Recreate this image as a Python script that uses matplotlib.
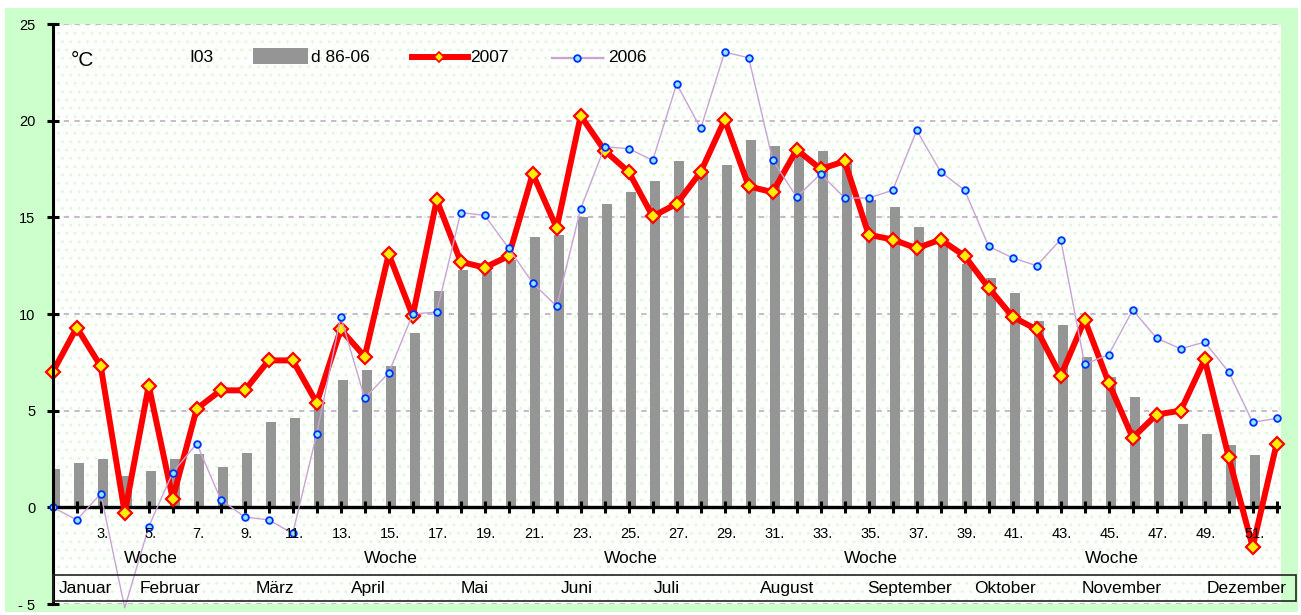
import matplotlib
matplotlib.use('Agg')
import matplotlib.pyplot as plt
from matplotlib.patches import Rectangle
from matplotlib.lines import Line2D
import numpy as np

plt.rcParams['font.family'] = ['Liberation Sans', 'DejaVu Sans']
plt.rcParams['font.size'] = 10
plt.rcParams['hatch.linewidth'] = 0.8

# Wochenmittel Temperatur
weeks = np.arange(1, 53)

# Mittel 86-06 (Woche 52 im Bild nicht sichtbar)
avg_86_06 = [2.0, 2.3, 2.5, 1.6, 1.9, 2.5, 2.75, 2.1, 2.8, 4.4,
             4.6, 5.3, 6.6, 7.1, 7.3, 9.0, 11.2, 12.3, 12.2, 12.8,
             14.0, 14.1, 15.0, 15.7, 16.3, 16.9, 17.9, 17.5, 17.7, 19.0,
             18.7, 18.2, 18.45, 17.8, 15.9, 15.55, 14.5, 13.6, 12.6, 11.85,
             11.1, 9.65, 9.45, 7.8, 6.75, 5.7, 4.8, 4.3, 3.8, 3.2,
             2.7]

t2007 = [7.0, 9.3, 7.3, -0.3, 6.3, 0.45, 5.1, 6.05, 6.05, 7.6,
         7.6, 5.4, 9.2, 7.8, 13.1, 9.9, 15.9, 12.7, 12.4, 13.0,
         17.25, 14.45, 20.25, 18.45, 17.35, 15.05, 15.7, 17.35, 20.05, 16.6,
         16.3, 18.5, 17.5, 17.9, 14.1, 13.85, 13.4, 13.85, 13.0, 11.35,
         9.85, 9.2, 6.8, 9.7, 6.45, 3.6, 4.8, 5.0, 7.65, 2.6,
         -2.05, 3.3]

t2006 = [0.0, -0.65, 0.7, -5.2, -1.0, 1.8, 3.3, 0.4, -0.5, -0.65,
         -1.35, 3.8, 9.85, 5.65, 6.95, 10.0, 10.1, 15.25, 15.1, 13.4,
         11.6, 10.4, 15.45, 18.65, 18.55, 17.95, 21.9, 19.6, 23.55, 23.25,
         17.95, 16.05, 17.25, 16.0, 16.0, 16.4, 19.5, 17.35, 16.4, 13.5,
         12.9, 12.5, 13.85, 7.4, 7.9, 10.2, 8.75, 8.2, 8.55, 7.0,
         4.4, 4.6]

week_label_pos = list(range(3, 52, 2))
week_labels = [f'{w}.' for w in week_label_pos]
woche_pos = [5.1, 15.1, 25.1, 35.1, 45.15]
months = ['Januar', 'Februar', 'März', 'April', 'Mai', 'Juni', 'Juli',
          'August', 'September', 'Oktober', 'November', 'Dezember']
month_pos = [2.36, 5.89, 10.24, 14.14, 18.6, 22.83, 26.57,
             31.6, 36.7, 40.68, 45.53, 50.74]
y_ticks = [-5, 0, 5, 10, 15, 20, 25]
y_ticklabels = ['- 5', '0', '5', '10', '15', '20', '25']

W, H = 1301, 615
fig = plt.figure(figsize=(W / 100, H / 100), dpi=100)
fig.patch.set_facecolor('white')
fig.add_artist(Rectangle((5 / W, 3 / H), 1293 / W, 604 / H,
                         transform=fig.transFigure, facecolor='#ccffcc',
                         edgecolor='none', zorder=0))

ax = fig.add_axes([52.5 / W, 11 / H, (1281 - 52.5) / W, 580 / H])
ax.set_facecolor('none')
ax.add_patch(Rectangle((0, 0), 1, 1, transform=ax.transAxes,
                       facecolor='#fdfffc', edgecolor='#e2f6dc', hatch='..',
                       lw=0, zorder=0))
ax.set_xlim(0.99, 52.18)
ax.set_ylim(-5, 25)

for s in ['top', 'right', 'bottom']:
    ax.spines[s].set_visible(False)
ax.spines['left'].set_linewidth(2.2)
ax.spines['left'].set_zorder(6)

ax.set_yticks(y_ticks)
ax.set_yticklabels(y_ticklabels)
ax.tick_params(axis='y', direction='inout', length=9, width=2.2, pad=8,
               labelsize=10.5)
ax.tick_params(axis='x', bottom=False, labelbottom=False)
ax.yaxis.grid(True, color='#bba6c0', lw=1.1, linestyle=(0, (3.5, 3.5)), zorder=1)
ax.set_axisbelow(True)

# bars (Mittel 86-06)
ax.bar(weeks[:len(avg_86_06)] + 0.1, avg_86_06, width=0.4, color='#959595',
       zorder=2)

# Nulllinie mit Wochenstrichen
ax.axhline(0, color='black', lw=2.4, zorder=3)
ax.plot(weeks, np.zeros(len(weeks)), ls='none', marker='|', ms=8, mew=2.2,
        color='black', zorder=3, clip_on=False)

# 2007
ax.plot(weeks, t2007, color='red', lw=4.3, marker='D', ms=7.3,
        markerfacecolor='#ffee00', markeredgecolor='red', mew=1.6,
        zorder=5, clip_on=False)

# 2006
vis = [i for i, v in enumerate(t2006) if v >= -5]
ax.plot(weeks, t2006, color='#c9a3d3', lw=1.0, marker='o', ms=4.8,
        markerfacecolor='#8fe6ff', markeredgecolor='#0030ff', mew=1.3,
        markevery=vis, zorder=6, clip_on=False)

# Beschriftung unten
for p, lab in zip(week_label_pos, week_labels):
    ax.text(p + 0.06, -1.38, lab, fontsize=10.5, ha='center', va='center',
            zorder=7)
for p in woche_pos:
    ax.text(p, -2.63, 'Woche', fontsize=12.5, ha='center', va='center', zorder=7)
ax.add_patch(Rectangle((0.99, -4.87), 51.8, 1.35, fill=False,
                       edgecolor='#222222', lw=1.2, clip_on=False, zorder=7))
for p, m in zip(month_pos, months):
    ax.text(p, -4.18, m, fontsize=12.5, ha='center', va='center', zorder=7)

# Legende
def fx(px):
    return (px - 52.5) / (1281 - 52.5)

def fy(py):
    return (604 - py) / 580

lg = 12.5
ax.text(fx(71), fy(60), '°C', fontsize=15, ha='left', va='center',
        transform=ax.transAxes)
ax.text(fx(189), fy(57), 'I03', fontsize=lg, ha='left', va='center',
        transform=ax.transAxes)
ax.add_patch(Rectangle((fx(253), fy(64)), fx(308) - fx(253), fy(48) - fy(64),
                       transform=ax.transAxes, facecolor='#959595',
                       edgecolor='none', zorder=7))
ax.text(fx(311), fy(57), 'd 86-06', fontsize=lg, ha='left', va='center',
        transform=ax.transAxes)
ax.add_line(Line2D([fx(412), fx(468)], [fy(57), fy(57)], transform=ax.transAxes,
                   color='red', lw=4.3, zorder=7))
ax.add_line(Line2D([fx(439)], [fy(57)], transform=ax.transAxes, marker='D',
                   ms=5.5, markerfacecolor='#ffee00', markeredgecolor='red',
                   mew=1.2, zorder=8))
ax.text(fx(470), fy(57), '2007', fontsize=lg, ha='left', va='center',
        transform=ax.transAxes)
ax.add_line(Line2D([fx(552), fx(603)], [fy(58), fy(58)], transform=ax.transAxes,
                   color='#c9a3d3', lw=1.6, zorder=7))
ax.add_line(Line2D([fx(577)], [fy(58)], transform=ax.transAxes, marker='o',
                   ms=4.8, markerfacecolor='#8fe6ff', markeredgecolor='#0030ff',
                   mew=1.3, zorder=8))
ax.text(fx(608), fy(57), '2006', fontsize=lg, ha='left', va='center',
        transform=ax.transAxes)

fig.savefig('out.png', dpi=100, facecolor=fig.get_facecolor())
